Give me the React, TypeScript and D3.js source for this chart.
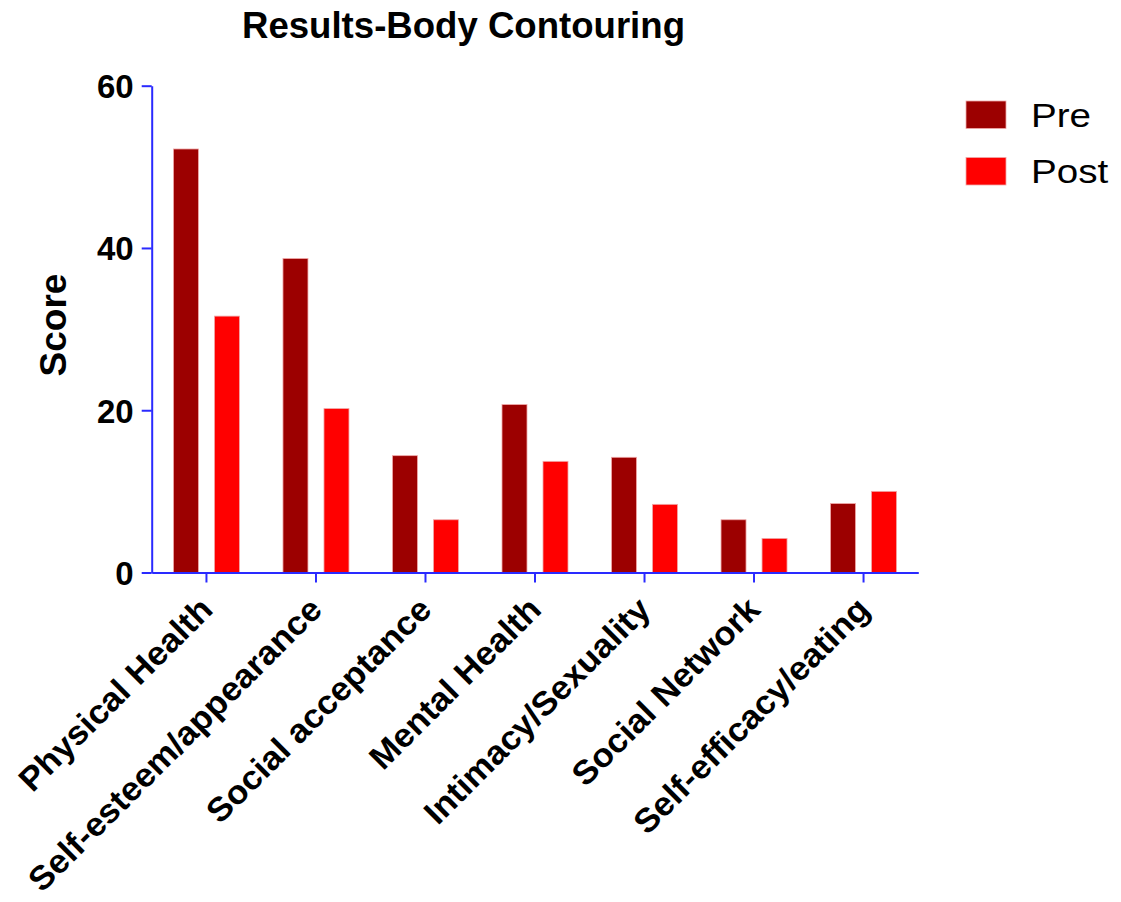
import { useEffect, useRef } from 'react';
import * as d3 from 'd3';

const categories = [
  'Physical Health',
  'Self-esteem/appearance',
  'Social acceptance',
  'Mental Health',
  'Intimacy/Sexuality',
  'Social Network',
  'Self-efficacy/eating',
];
const seriesNames = ['Pre', 'Post'];
const preValues = [52.2, 38.7, 14.4, 20.7, 14.2, 6.5, 8.5];
const postValues = [31.6, 20.2, 6.5, 13.7, 8.4, 4.2, 10.0];
const yTicks = [0, 20, 40, 60];
const seriesColors = ['#9c0000', '#ff0000'];

const FONT = '"Liberation Sans", Arial, Helvetica, sans-serif';
const AXIS_BLUE = '#2a2aff';

const App = () => {
  const svgRef = useRef<SVGSVGElement>(null);

  useEffect(() => {
    const svg = d3.select(svgRef.current);
    svg.selectAll('*').remove();

    const left = 151.7;
    const right = 918.3;
    const top = 85.7;
    const bottom = 572.5;

    const x = d3.scaleBand<string>().domain(categories).range([left, right]).padding(0);
    const inner = d3
      .scaleBand<string>()
      .domain(seriesNames)
      .range([-33, 33])
      .paddingInner(16 / 41)
      .paddingOuter(0);
    const y = d3.scaleLinear().domain([0, 60]).range([bottom, top]);

    // title
    svg
      .append('text')
      .attr('x', 463.5)
      .attr('y', 38)
      .attr('text-anchor', 'middle')
      .attr('font-family', FONT)
      .attr('font-weight', 'bold')
      .attr('font-size', 36.6)
      .text('Results-Body Contouring');

    // bars
    const rows = categories.map((c, i) => ({ c, values: [preValues[i], postValues[i]] }));
    rows.forEach(row => {
      const cx = (x(row.c) as number) + x.bandwidth() / 2;
      row.values.forEach((v, j) => {
        svg
          .append('rect')
          .attr('x', cx + (inner(seriesNames[j]) as number))
          .attr('y', y(v))
          .attr('width', inner.bandwidth())
          .attr('height', y(0) - y(v))
          .attr('fill', seriesColors[j])
          .attr('stroke', '#f0a8a8')
          .attr('stroke-width', 0.8);
      });
    });

    // y axis
    const yAxis = svg
      .append('g')
      .attr('transform', `translate(${left}, 0)`)
      .call(d3.axisLeft(y).tickValues(yTicks).tickSize(10).tickPadding(8).tickSizeOuter(0));
    yAxis.select('.domain').attr('stroke', AXIS_BLUE).attr('stroke-width', 2);
    yAxis.selectAll('.tick line').attr('stroke', AXIS_BLUE).attr('stroke-width', 2);
    yAxis
      .selectAll('.tick text')
      .attr('font-family', FONT)
      .attr('font-weight', 'bold')
      .attr('font-size', 33)
      .attr('fill', '#000')
      .attr('dy', '0.36em');

    // x axis, labels turned 45 degrees and stretched a little like the original font
    const xAxis = svg
      .append('g')
      .attr('transform', `translate(0, ${bottom})`)
      .call(d3.axisBottom(x).tickSize(10).tickSizeOuter(0));
    xAxis.select('.domain').attr('stroke', AXIS_BLUE).attr('stroke-width', 2);
    xAxis.selectAll('.tick line').attr('stroke', AXIS_BLUE).attr('stroke-width', 2);
    xAxis
      .selectAll('.tick text')
      .attr('font-family', FONT)
      .attr('font-weight', 'bold')
      .attr('font-size', 33.5)
      .attr('fill', '#000')
      .attr('text-anchor', 'end')
      .attr('dy', 0)
      .attr('y', 0)
      .attr('transform', 'translate(8, 39) rotate(-45) scale(1.04, 1)');

    // y label
    svg
      .append('text')
      .attr('transform', 'translate(66, 325) rotate(-90)')
      .attr('text-anchor', 'middle')
      .attr('font-family', FONT)
      .attr('font-weight', 'bold')
      .attr('font-size', 37)
      .text('Score');

    // legend
    seriesNames.forEach((name, i) => {
      const ly = 101 + i * 56.5;
      svg
        .append('rect')
        .attr('x', 966)
        .attr('y', ly)
        .attr('width', 40)
        .attr('height', 27.5)
        .attr('fill', seriesColors[i])
        .attr('stroke', '#f0a8a8')
        .attr('stroke-width', 0.8);
      svg
        .append('text')
        .attr('transform', `translate(1031, ${ly + 25.7}) scale(1.17, 1)`)
        .attr('font-family', FONT)
        .attr('font-size', 33)
        .text(name);
    });
  }, []);

  return (
    <svg
      ref={svgRef}
      width={1121}
      height={902}
      viewBox="0 0 1121 902"
      style={{ position: 'absolute', left: 0, top: 0, background: '#fff' }}
    />
  );
};

export default App;
